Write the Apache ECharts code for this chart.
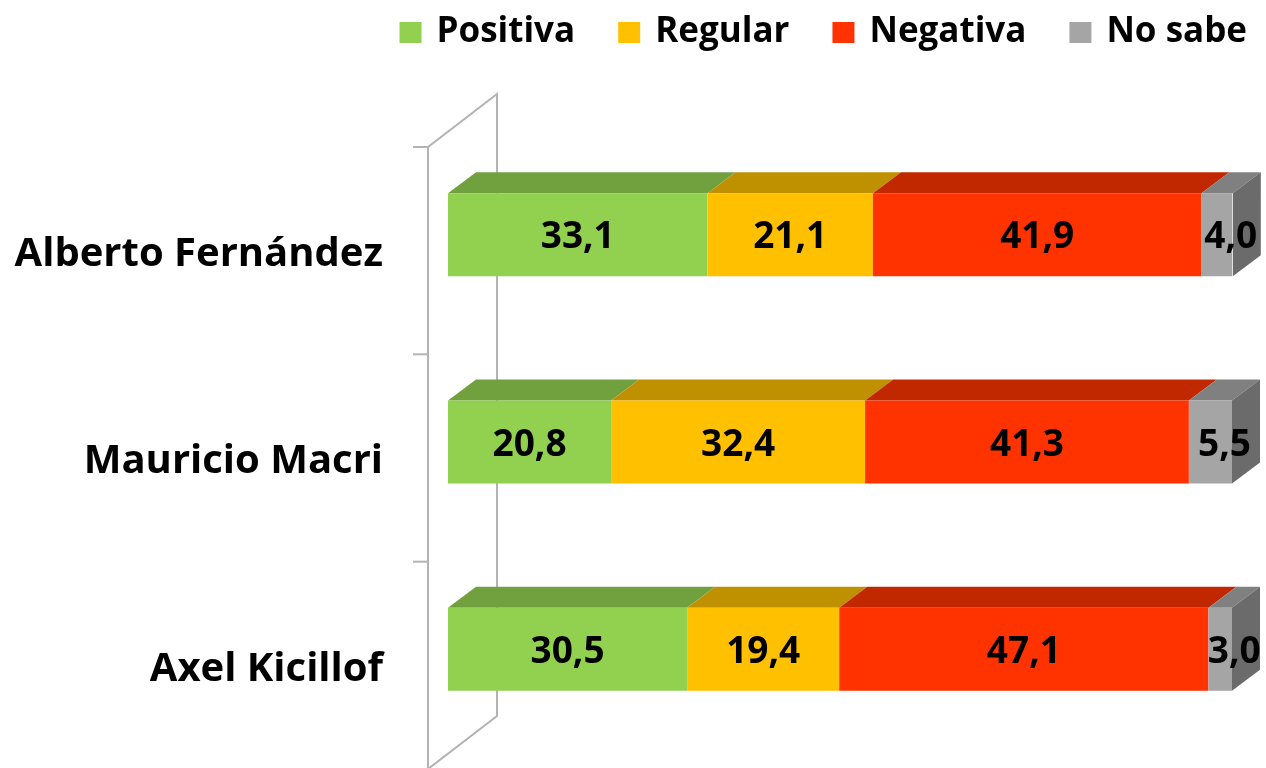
<!DOCTYPE html>
<html>
<head>
<meta charset="utf-8">
<script src="https://cdn.jsdelivr.net/npm/echarts@6/dist/echarts.min.js"></script>
<style>
  html, body { margin: 0; padding: 0; background: #fff; }
  #chart { width: 1266px; height: 768px; }
</style>
</head>
<body>
<div id="chart"></div>
<script>
  // datos
  var categories = ['Alberto Fernández', 'Mauricio Macri', 'Axel Kicillof'];
  var seriesNames = ['Positiva', 'Regular', 'Negativa', 'No sabe'];
  var positiva = [33.1, 20.8, 30.5];
  var regular = [21.1, 32.4, 19.4];
  var negativa = [41.9, 41.3, 47.1];
  var noSabe = [4.0, 5.5, 3.0];

  var frontColors = ['#92D050', '#FFC000', '#FF3300', '#A5A5A5'];
  var topColors = ['#71A03F', '#BF9000', '#C22800', '#808080'];
  var sideColor = '#6B6B6B';
  var wallColor = '#B3B3B3';
  var FONT = '"Open Sans"';

  var BAR_W = 83;          // alto de la cara frontal
  var DEPTH = [28, -21];   // profundidad de la barra
  var WALL_SHIFT = [-20, 16]; // plano frontal de la pared respecto a las barras
  var WALL_DEPTH = [69, -53];

  var values = [positiva, regular, negativa, noSabe];

  // caras superiores / laterales
  var faceData = [];
  for (var c = 0; c < categories.length; c++) {
    var acc = 0;
    for (var s = 0; s < values.length; s++) {
      faceData.push([acc, c, acc + values[s][c], s]);
      acc += values[s][c];
    }
  }

  function fmt(p) {
    return p.value.toFixed(1).replace('.', ',');
  }

  var chart = echarts.init(document.getElementById('chart'));

  var series = [];

  // pared (fondo)
  series.push({
    type: 'custom',
    silent: true,
    z: 0,
    data: [[0, 0]],
    renderItem: function (params, api) {
      var p0 = api.coord([0, 0]);
      var band = api.size([0, 1])[1];
      var fx = p0[0] + WALL_SHIFT[0];
      var fTop = p0[1] - band / 2 + WALL_SHIFT[1];
      var fBot = fTop + band * categories.length;
      var bx = fx + WALL_DEPTH[0];
      var style = { stroke: wallColor, lineWidth: 2, fill: null };
      var children = [
        { type: 'polyline', shape: { points: [[fx, fBot], [fx, fTop], [bx, fTop + WALL_DEPTH[1]], [bx, fBot + WALL_DEPTH[1]], [fx, fBot]] }, style: style }
      ];
      for (var i = 0; i <= categories.length; i++) {
        var ty = fTop + band * i;
        children.push({ type: 'line', shape: { x1: fx - 15, y1: ty, x2: fx, y2: ty }, style: style });
      }
      return { type: 'group', children: children };
    }
  });

  // caras 3D
  series.push({
    type: 'custom',
    silent: true,
    z: 1,
    data: faceData,
    encode: { x: [0, 2], y: 1 },
    renderItem: function (params, api) {
      var s = api.value(3);
      var a = api.coord([api.value(0), api.value(1)]);
      var b = api.coord([api.value(2), api.value(1)]);
      var yt = a[1] - BAR_W / 2;
      var yb = a[1] + BAR_W / 2;
      var dx = DEPTH[0], dy = DEPTH[1];
      var children = [{
        type: 'polygon',
        shape: { points: [[a[0], yt], [b[0], yt], [b[0] + dx, yt + dy], [a[0] + dx, yt + dy]] },
        style: { fill: topColors[s] }
      }];
      if (s === values.length - 1) {
        children.push({
          type: 'polygon',
          shape: { points: [[b[0], yt], [b[0] + dx, yt + dy], [b[0] + dx, yb + dy], [b[0], yb]] },
          style: { fill: sideColor }
        });
      }
      return { type: 'group', children: children };
    }
  });

  for (var i = 0; i < seriesNames.length; i++) {
    series.push({
      name: seriesNames[i],
      type: 'bar',
      stack: 'total',
      z: 2,
      barWidth: BAR_W,
      itemStyle: { color: frontColors[i] },
      label: {
        show: true,
        position: 'inside',
        offset: i === seriesNames.length - 1 ? [DEPTH[0] / 2, 3] : [0, 3],
        formatter: fmt,
        color: '#000',
        fontFamily: FONT,
        fontWeight: 'bold',
        fontSize: 37
      },
      data: values[i]
    });
  }

  chart.setOption({
    animation: false,
    legend: {
      data: seriesNames,
      right: 14,
      top: 10,
      icon: 'rect',
      itemWidth: 22,
      itemHeight: 21,
      itemGap: 43,
      textStyle: { fontFamily: FONT, fontWeight: 'bold', fontSize: 35, color: '#000', padding: [0, 0, 0, 10] }
    },
    grid: { left: 448, right: 34, top: 131, bottom: 15 },
    xAxis: { type: 'value', min: 0, max: 100, show: false },
    yAxis: {
      type: 'category',
      data: categories,
      inverse: true,
      axisLine: { show: false },
      axisTick: { show: false },
      axisLabel: {
        margin: 65,
        verticalAlign: 'top',
        lineHeight: 40,
        color: '#000',
        fontFamily: FONT,
        fontWeight: 'bold',
        fontSize: 40
      }
    },
    series: series
  });
</script>
</body>
</html>
